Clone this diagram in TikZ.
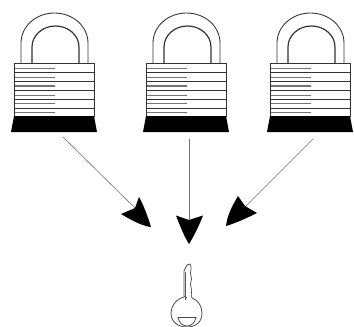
\documentclass[tikz,border=0pt]{standalone}
\usetikzlibrary{arrows.meta}
\tikzset{
  shackle/.style={line width=.85pt,draw=black!80},
  rail/.style={line width=.9pt,draw=black!80},
  tooth/.style={line width=1pt,draw=black!55},
  flow/.style={line width=.6pt,draw=black!55},
  headtip/.style={fill=black,draw=none},
  keyline/.style={line width=.8pt,draw=black!70},
  pics/padlock/.style={code={
    \draw[shackle] (7,63) -- (7,43) .. controls (7,26.4) and (22,13) .. (40.5,13) .. controls (59,13) and (74,26.4) .. (74,43) -- (74,63);
    \draw[shackle,line width=1.2pt] (18,63) -- (18,47) .. controls (18,35.4) and (28.5,26) .. (41.5,26) .. controls (54.5,26) and (65,35.4) .. (65,47) -- (65,63);
    \draw[rail,fill=white] (0,63) rectangle (80,116);
    \foreach \y in {72,81,90,99,108}{\draw[rail] (0,\y) -- (80,\y);}
    \foreach \y in {68,77,95,103,112}{\draw[tooth] (1,\y) -- (41,\y);}
    \draw[tooth,line width=2pt] (1,86) -- (41,86);
    \fill[black] (0,116) -- (80,116) -- (83,132) -- (-3,132) -- cycle;
  }}
}
\begin{document}
\begin{tikzpicture}[x=1pt,y=-1pt]
\useasboundingbox (0,0) rectangle (354,327);
\fill[white] (0,0) rectangle (354,327);
\pic at (14,0) {padlock};
\pic at (146,0) {padlock};
\pic at (270,0) {padlock};
\coordinate (a1) at (63,137);
\coordinate (a2) at (189,139);
\coordinate (a3) at (313,139);
\coordinate (k1) at (151,227);
\coordinate (k2) at (189,244);
\coordinate (k3) at (226,226);
\draw[flow] (a1) -- (135,208);
\draw[flow] (a2) -- (189,221);
\draw[flow] (a3) -- (245,207);
\fill[headtip] (k1) .. controls (142,226) and (131,220) .. (121,214) -- (135,208) -- (139,197) .. controls (144,206) and (148,217) .. (k1) -- cycle;
\fill[headtip] (k2) .. controls (184,236) and (180,226) .. (176,215.5) -- (189,220) -- (203,215.5) .. controls (199,226) and (194,236) .. (k2) -- cycle;
\fill[headtip] (k3) .. controls (227,216) and (232,206) .. (238,196) -- (245,206) -- (257,213) .. controls (247,218) and (236,223) .. (k3) -- cycle;
% key
\draw[keyline] (187,298) -- (184,296) -- (184,271) -- (187,265) -- (190,264);
\draw[line width=1.6pt,draw=black!65] (185.5,272) -- (185.5,300);
\draw[keyline,line width=.7pt] (190,264) .. controls (193,268) and (189,272) .. (191,276) .. controls (193,280) and (189,283) .. (191,287) .. controls (193,291) and (190,294) .. (192,298);
\draw[keyline] (184,297) .. controls (176,299) and (171,306) .. (171,313) .. controls (171,322) and (178,327) .. (187,327) .. controls (196,327) and (202,322) .. (202,313) .. controls (202,306) and (198,300) .. (192,298);
\draw[keyline] (178,317.5) -- (196,317.5) .. controls (195,323) and (191,326) .. (187,326) .. controls (183,326) and (179,323) .. (178,317.5) -- cycle;
\end{tikzpicture}
\end{document}
